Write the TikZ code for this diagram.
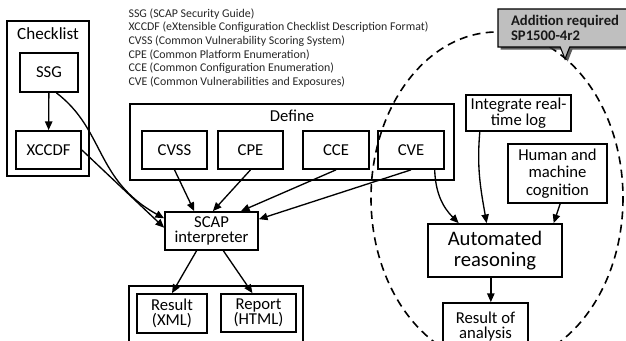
\documentclass[tikz,border=0pt]{standalone}
\usepackage{fontspec}
\setmainfont{Carlito}
\usetikzlibrary{arrows.meta,shapes.callouts,shadows}

\begin{document}
\begin{tikzpicture}[
		x=0.75pt, y=-0.75pt,
		every node/.style={inner sep=1pt},
		box/.style={draw, line width=1.3pt, align=center, font=\fontsize{12.5}{11.5}\selectfont},
		frame/.style={draw, line width=1.3pt},
		link/.style={line width=1pt, -{Triangle[length=6.5pt, width=5.5pt]}}
	]
  \useasboundingbox (0,0) rectangle (626,341);
  \draw [dashed, dash pattern=on 6pt off 4pt, line width=1.2pt] (497,198) ellipse [x radius=126, y radius=166];

  \node (checklist) [frame, minimum width=61.5pt, minimum height=116.25pt] at (48,98.5) {};
  \node (checklist_label) [font=\fontsize{12.8}{14}\selectfont] at (48,34) {Checklist};
  \node (ssg) [box, minimum width=43.5pt, minimum height=29.25pt] at (49,72.5) {SSG};
  \node (xccdf) [box, minimum width=48.75pt, minimum height=28.5pt] at (48.5,150) {XCCDF};

  \node (legend) [anchor=north west, align=left, text=black!85, font=\fontsize{8.9}{10.2}\selectfont] at (127,7) {SSG (SCAP Security Guide)\\XCCDF (eXtensible Configuration Checklist Description Format)\\CVSS (Common Vulnerability Scoring System)\\CPE (Common Platform Enumeration)\\CCE (Common Configuration Enumeration)\\CVE (Common Vulnerabilities and Exposures)};

  \node (define) [frame, minimum width=243pt, minimum height=57pt] at (292,142) {};
  \node (define_label) [font=\fontsize{12.5}{14}\selectfont] at (292,116) {Define};
  \node (cvss) [box, minimum width=48.75pt, minimum height=28.5pt] at (174.5,150) {CVSS};
  \node (cpe) [box, minimum width=48.75pt, minimum height=28.5pt] at (250.5,150) {CPE};
  \node (cce) [box, minimum width=49.5pt, minimum height=28.5pt] at (336,150) {CCE};
  \node (cve) [box, minimum width=49.5pt, minimum height=28.5pt] at (411,150) {CVE};

  \node (scap) [box, minimum width=69.75pt, minimum height=28.5pt] at (211.5,231) {SCAP\\interpreter};
  \node (output) [frame, minimum width=130.5pt, minimum height=51pt] at (216,320) {};
  \node (result_xml) [box, minimum width=52.5pt, minimum height=29.25pt] at (172,313.5) {Result\\(XML)};
  \node (report_html) [box, minimum width=56.25pt, minimum height=28.5pt] at (258.5,313) {Report\\(HTML)};

  \node (integrate) [box, minimum width=78.75pt, minimum height=27pt] at (518.5,113) {Integrate real-\\time log};
  \node (cognition) [box, minimum width=74.25pt, minimum height=44.25pt, font=\fontsize{12.5}{13.3}\selectfont] at (557.5,173.5) {Human and\\machine\\cognition};
  \node (reasoning) [box, minimum width=100.5pt, minimum height=39.75pt, font=\fontsize{15.5}{15.5}\selectfont] at (495,250.5) {Automated\\reasoning};
  \node (analysis) [box, minimum width=63.75pt, minimum height=35.25pt] at (485.5,326.5) {Result of\\analysis};

  \node (addition) [rectangle callout, callout absolute pointer={(565,59)}, draw, line width=0.8pt, fill=black!25, drop shadow={shadow xshift=2pt, shadow yshift=-2pt, opacity=0.8, fill=black!80}, minimum width=100.5pt, minimum height=28.5pt, align=left, text=black!90, font=\bfseries\fontsize{11}{11.5}\selectfont] at (565,28) {Addition required\\SP1500-4r2};

  \draw [link] (ssg) -- (xccdf);
  \draw [link] (ssg.290) .. controls (105,130) and (95,180) .. (scap.165);
  \draw [link] (xccdf.east) -- (scap.176);
  \draw [link] (cvss.south) -- (scap.131);
  \draw [link] (cpe.south) -- (scap.86);
  \draw [link] (cce.south) -- (scap.34);
  \draw [link] (cve.south) -- (scap.14);
  \draw [link] (cve.-40) to [out=-88, in=135] (reasoning.143);
  \draw [link] (integrate.-154) to [out=-95, in=100] (reasoning.107);
  \draw [link] (cognition.-85) -- (reasoning.25);
  \draw [link] ([xshift=4pt]analysis.north |- reasoning.south) -- ([xshift=4pt]analysis.north);
  \draw [link] (scap.-127) -- (result_xml.north);
  \draw [link] (scap.-59) -- (report_html.107);
\end{tikzpicture}
\end{document}
